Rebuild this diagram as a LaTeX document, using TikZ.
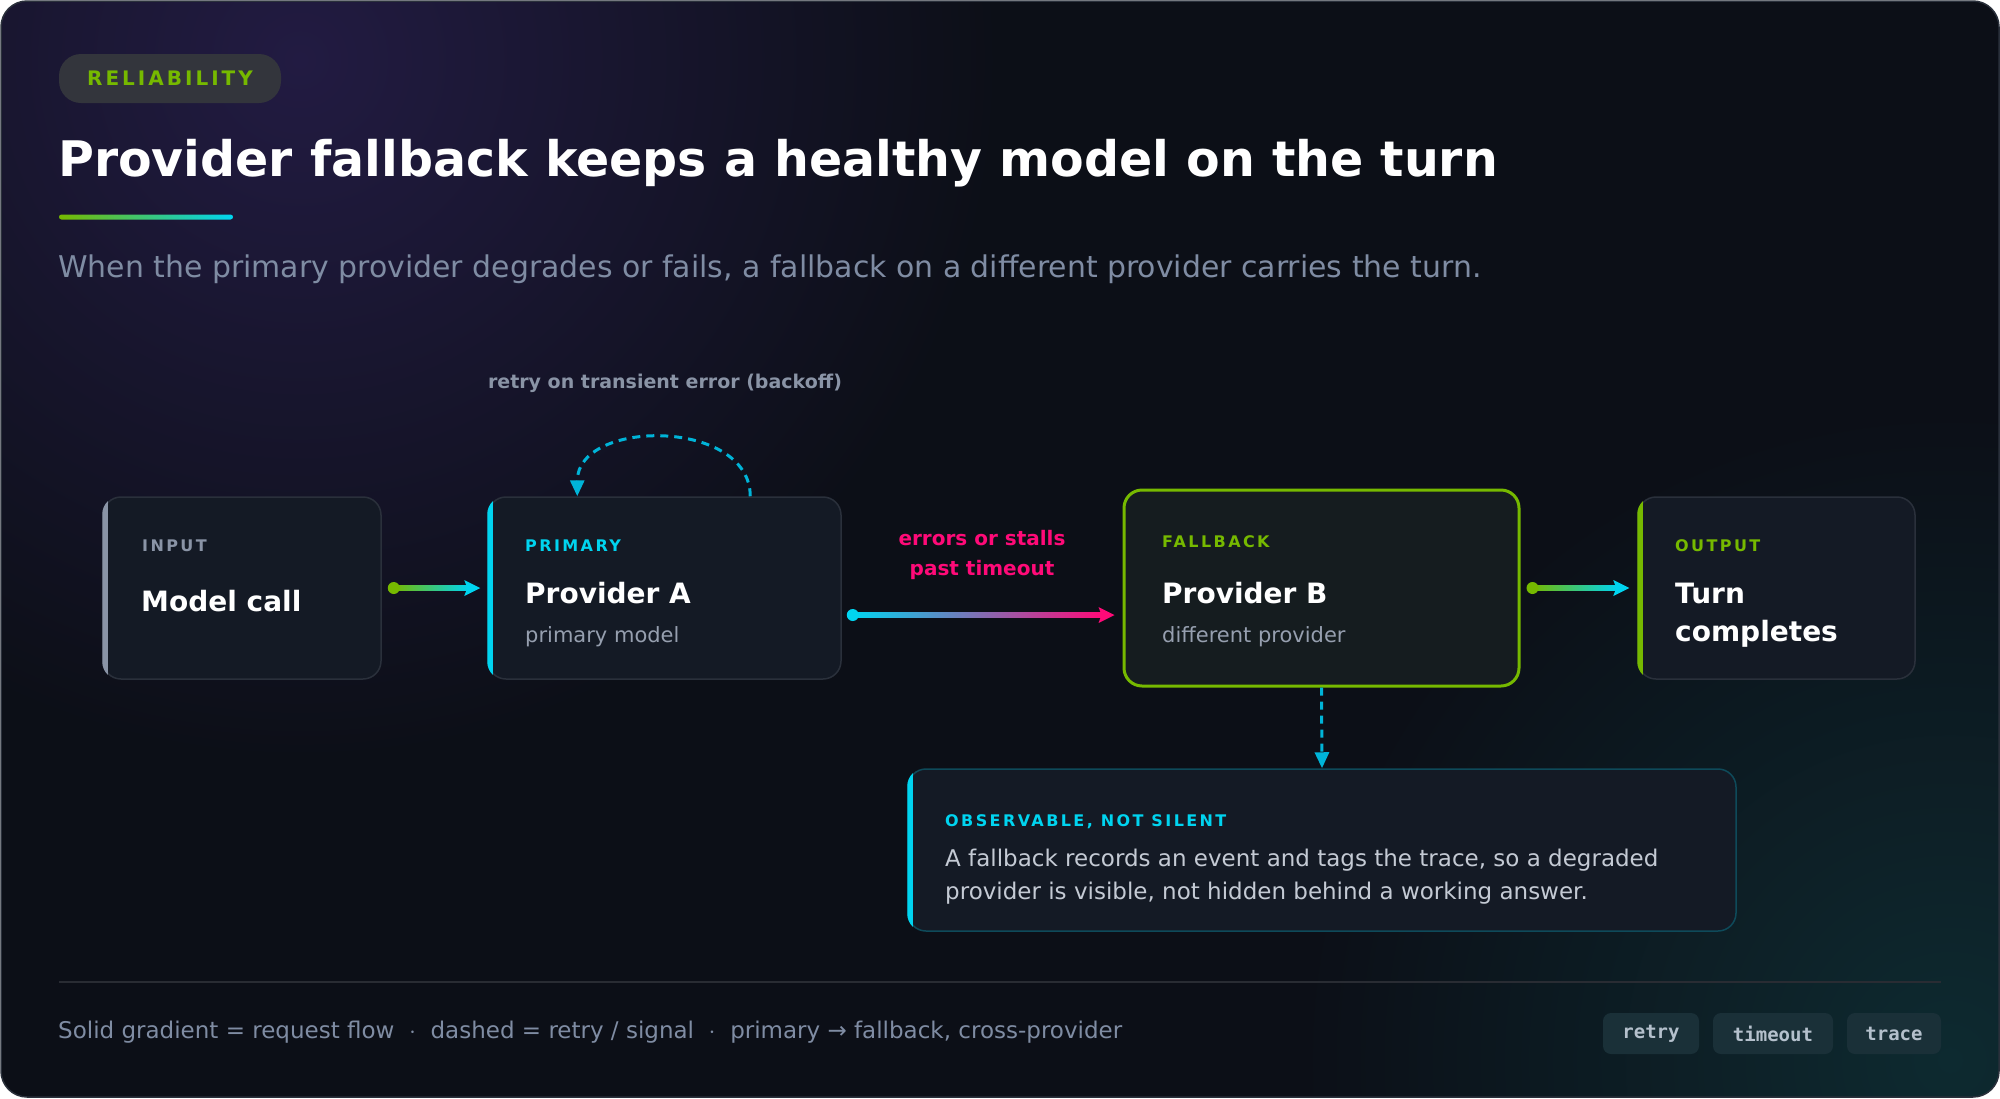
\documentclass[tikz,border=0pt]{standalone}
\usepackage{fontspec}
\setmainfont{DejaVu Sans}
\newfontfamily\spaced[LetterSpace=15]{DejaVu Sans}
\newfontfamily\monof{DejaVu Sans Mono}
\usetikzlibrary{arrows.meta,calc}
\definecolor{bgbase}{HTML}{0C0F17}
\definecolor{bgpurple}{HTML}{221B42}
\definecolor{bgteal}{HTML}{0D2A30}
\definecolor{boxfill}{HTML}{141A25}
\definecolor{fbfill}{HTML}{151C1F}
\definecolor{boxline}{HTML}{2A303B}
\definecolor{grn}{HTML}{76B900}
\definecolor{cyn}{HTML}{00D4F0}
\definecolor{cynd}{HTML}{00B4D8}
\definecolor{pnk}{HTML}{FF0A78}
\definecolor{gry}{HTML}{8A94A6}
\definecolor{subg}{HTML}{7F8CA3}
\definecolor{bodyg}{HTML}{C4CAD4}
\definecolor{tagfill}{HTML}{1A3038}
\definecolor{tagtext}{HTML}{B4C0CC}
\definecolor{obsline}{HTML}{0E4A5A}
\tikzset{
  box/.style={draw=boxline,line width=1.5pt,fill=boxfill,rounded corners=18pt,inner sep=0pt},
  lbl/.style={anchor=base west,inner sep=0pt,font=\spaced\bfseries\fontsize{16}{18}\selectfont},
  ttl/.style={anchor=base west,inner sep=0pt,text=white,font=\bfseries\fontsize{28}{38}\selectfont,align=left},
  sub/.style={anchor=base west,inner sep=0pt,text=gry!90!white,font=\fontsize{21}{24}\selectfont},
  tag/.style={fill=tagfill,rounded corners=8pt,text=tagtext,font=\monof\bfseries\fontsize{19}{20}\selectfont,minimum height=41pt,inner sep=0pt},
  dsh/.style={cynd,line width=3pt,dash pattern=on 8pt off 6pt},
}
\newcommand{\gradarrow}[4]{%
  \shade[left color=#3,right color=#4] ($(#1)+(0,-2.5)$) rectangle ($(#2)+(-12,2.5)$);
  \fill[#3] (#1) circle (6pt);
  \fill[#4] ($(#2)+(-16,-8)$) -- (#2) -- ($(#2)+(-16,8)$) -- ($(#2)+(-13,0)$) -- cycle;}
\begin{document}
\begin{tikzpicture}[x=1pt,y=-1pt]
\useasboundingbox (0,0) rectangle (2000,1098);
\begin{scope}
\clip[rounded corners=26pt] (1,1) rectangle (1999,1097);
\fill[bgbase] (0,0) rectangle (2000,1098);
\shade[inner color=bgpurple,outer color=bgbase] (300,60) circle (700pt);
\shade[inner color=bgteal,outer color=bgbase] (1950,1060) circle (650pt);
\end{scope}
\draw[boxline,line width=1.5pt,rounded corners=26pt] (1,1) rectangle (1999,1097);
% header
\node[fill=white!16!bgbase,rounded corners=22pt,minimum width=222pt,minimum height=49pt,inner sep=0pt,text=grn,font=\spaced\bfseries\fontsize{20}{22}\selectfont] (pill) at (170,78.5) {RELIABILITY};
\node[anchor=base west,inner sep=0pt,text=white,font=\bfseries\fontsize{49}{56}\selectfont] (title) at (58,176) {Provider fallback keeps a healthy model on the turn};
\shade[left color=grn,right color=cyn,rounded corners=2.5pt] (59,214.5) rectangle (233,219.5);
\node[anchor=base west,inner sep=0pt,text=subg,font=\fontsize{29.9}{34}\selectfont] (subt) at (58,277) {When the primary provider degrades or fails, a fallback on a different provider carries the turn.};
% boxes
\node[box,minimum width=278pt,minimum height=182pt] (in) at (242,588) {};
\node[box,minimum width=353pt,minimum height=182pt] (pa) at (664.5,588) {};
\node[box,draw=grn,line width=3pt,fill=fbfill,minimum width=395pt,minimum height=196pt] (pb) at (1321.5,588) {};
\node[box,minimum width=277pt,minimum height=182pt] (out) at (1776.5,588) {};
\node[box,draw=obsline,minimum width=828pt,minimum height=162pt] (obs) at (1322,850) {};
\foreach \n/\c in {in/gry,pa/cyn,out/grn,obs/cyn}{
  \begin{scope}
  \clip[rounded corners=18pt] (\n.south west) rectangle (\n.north east);
  \fill[\c] (\n.south west) rectangle ($(\n.north west)+(6,0)$);
  \end{scope}}
% texts
\node[lbl,text=gry] (inl) at (142,551) {INPUT};
\node[ttl] (int) at (141,611) {Model call};
\node[lbl,text=cyn] (pal) at (525,551) {PRIMARY};
\node[ttl] (pat) at (525,603) {Provider A};
\node[sub] (pas) at (525,642) {primary model};
\node[lbl,text=grn] (pbl) at (1162,547) {FALLBACK};
\node[ttl] (pbt) at (1162,603) {Provider B};
\node[sub] (pbs) at (1162,642) {different provider};
\node[lbl,text=grn] (outl) at (1675,551) {OUTPUT};
\node[ttl] (outt) at (1675,641) {Turn\\completes};
\node[lbl,text=cyn] (obsl) at (945,826) {OBSERVABLE, NOT SILENT};
\node[anchor=base west,inner sep=0pt,text=bodyg,font=\fontsize{23}{33}\selectfont,align=left] (obst) at (945,899) {A fallback records an event and tags the trace, so a degraded\\provider is visible, not hidden behind a working answer.};
\node[inner sep=0pt,text=gry,font=\bfseries\fontsize{19}{22}\selectfont] (rl) at (665,383) {retry on transient error (backoff)};
\node[inner sep=0pt,text=pnk,align=center,font=\bfseries\fontsize{20}{30}\selectfont] (el) at (982,555) {errors or stalls\\past timeout};
% connectors
\coordinate (a1) at ($(in.east)+(12,0)$); \coordinate (a2) at ($(pa.west)+(-7,0)$);
\gradarrow{a1}{a2}{grn}{cyn}
\coordinate (b1) at ($(pa.east)+(11,27)$); \coordinate (b2) at ($(pb.west)+(-8,27)$);
\gradarrow{b1}{b2}{cyn}{pnk}
\coordinate (c1) at ($(pb.east)+(12,0)$); \coordinate (c2) at ($(out.west)+(-8,0)$);
\gradarrow{c1}{c2}{grn}{cyn}
\draw[dsh,-{Triangle[length=16pt,width=14pt]}] (pb.south) -- (obs.north);
\draw[dsh,-{Triangle[length=16pt,width=14pt]}] ($(pa.north west)+(263,0)$) .. controls ($(pa.north west)+(263,-78)$) and ($(pa.north west)+(90,-78)$) .. ($(pa.north west)+(90,0)$);
% footer
\draw[white!12!bgbase,line width=1.2pt] (59,982) -- (1941,982);
\node[anchor=west,inner sep=0pt,text=subg,font=\fontsize{23}{25}\selectfont] (ft) at (58,1032) {Solid gradient = request flow\ \ $\cdot$\ \ dashed = retry / signal\ \ $\cdot$\ \ primary → fallback, cross-provider};
\node[tag,minimum width=96pt] (t1) at (1651,1033.5) {retry};
\node[tag,minimum width=120pt] (t2) at (1773,1033.5) {timeout};
\node[tag,minimum width=94pt] (t3) at (1894,1033.5) {trace};
\end{tikzpicture}
\end{document}
